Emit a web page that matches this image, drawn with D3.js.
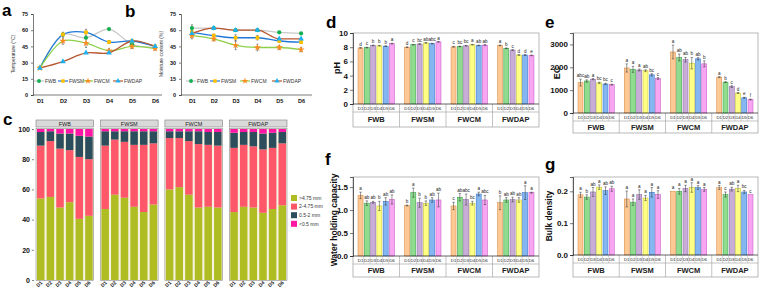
<!DOCTYPE html>
<html>
<head>
<meta charset="utf-8">
<script src="https://cdn.jsdelivr.net/npm/d3@7"></script>
<style>
body { margin: 0; background: #fff; }
svg { font-family: "Liberation Sans", Arial, sans-serif; }
</style>
</head>
<body>
<script>
var days = ["D1", "D2", "D3", "D4", "D5", "D6"];
var groups = ["FWB", "FWSM", "FWCM", "FWDAP"];

// a: temperature
var tempFWB = [25, 56, 53, 61, 47, 44];
var tempFWSM = [25, 56, 58, 49, 50, 45];
var tempFWCM = [25, 50, 48, 41, 45, 43];
var tempFWDAP = [25, 31, 39, 39, 50, 45];
var tempErr = [0.5, 3, 4, 2, 2, 1.5];

// b: moisture content
var moistFWB = [62, 62, 60, 60, 58, 57];
var moistFWSM = [58, 55, 53, 53, 50, 49];
var moistFWCM = [55, 52, 46, 44, 44, 42];
var moistFWDAP = [57, 62, 60, 60, 52, 52];
var moistErr = [3, 2, 4, 3, 2, 2];

// c: aggregate size fractions (%)
var sizeClasses = [">4.75 mm", "2-4.75 mm", "0.5-2 mm", "<0.5 mm"];
var aggFWB = [[54, 55, 48, 51.5, 40.5, 42.5], [35, 37, 39, 34.5, 41, 37.5], [9, 6.5, 10, 11, 14, 15], [2, 1.5, 3, 3, 4.5, 5]];
var aggFWSM = [[47, 56.5, 54.5, 48.5, 45, 50], [42, 36.5, 37, 41, 44.5, 40.5], [9.5, 5.5, 7, 9, 9, 8], [1.5, 1.5, 1.5, 1.5, 1.5, 1.5]];
var aggFWCM = [[60, 61.5, 56.5, 48, 48.5, 48], [34, 32.5, 35.5, 42, 41, 41], [4.5, 4.5, 6.5, 8.5, 8.5, 9], [1.5, 1.5, 1.5, 1.5, 2, 2]];
var aggFWDAP = [[45, 48.5, 48, 44.5, 47, 49.5], [42.5, 41, 40.5, 42, 40.5, 41], [10, 8.5, 9.5, 10.5, 10, 7.5], [2.5, 2, 2, 3, 2.5, 2]];

// d: pH
var phVals = [[7.9, 7.95, 8.25, 8.2, 8.15, 8.5], [8.0, 8.35, 8.45, 8.6, 8.5, 8.75], [8.05, 8.1, 8.2, 8.35, 8.25, 8.3], [8.25, 7.85, 7.6, 6.9, 6.9, 6.85]];
var phErr = [[0.05, 0.05, 0.05, 0.05, 0.05, 0.05], [0.05, 0.05, 0.05, 0.05, 0.05, 0.05], [0.05, 0.05, 0.05, 0.05, 0.05, 0.05], [0.05, 0.05, 0.05, 0.05, 0.05, 0.05]];
var phLetters = [["d", "c", "b", "b", "b", "a"], ["d", "c", "bc", "ab", "abc", "a"], ["c", "bc", "bc", "a", "ab", "ab"], ["a", "b", "c", "d", "d", "e"]];

// e: EC
var ecVals = [[1330, 1400, 1480, 1320, 1270, 1240], [1970, 1910, 1880, 1850, 1670, 1510], [2670, 2430, 2330, 2180, 2370, 2150], [1570, 1350, 1155, 875, 665, 590]];
var ecErr = [[150, 50, 25, 30, 30, 20], [180, 130, 40, 40, 50, 40], [300, 150, 100, 250, 50, 130], [20, 20, 40, 20, 20, 20]];
var ecLetters = [["abc", "ab", "a", "bc", "bc", "c"], ["a", "a", "a", "ab", "bc", "c"], ["a", "ab", "ab", "b", "ab", "b"], ["a", "b", "c", "d", "e", "f"]];

// f: water holding capacity
var whcVals = [[1.32, 1.15, 1.17, 1.09, 1.19, 1.23], [1.10, 1.38, 1.16, 1.15, 1.22, 1.22], [1.09, 1.28, 1.23, 1.15, 1.35, 1.22], [1.16, 1.22, 1.23, 1.22, 1.38, 1.38]];
var whcErr = [[0.07, 0.05, 0.02, 0.1, 0.08, 0.1], [0.01, 0.1, 0.1, 0.05, 0.05, 0.15], [0.08, 0.08, 0.12, 0.04, 0.04, 0.1], [0.15, 0.05, 0.05, 0.05, 0.15, 0.01]];
var whcLetters = [["a", "ab", "ab", "b", "ab", "ab"], ["b", "a", "b", "b", "ab", "ab"], ["c", "ab", "abc", "bc", "a", "abc"], ["b", "ab", "ab", "ab", "a", "a"]];

// g: bulk density
var bdVals = [[0.189, 0.182, 0.198, 0.213, 0.202, 0.208], [0.176, 0.166, 0.19, 0.179, 0.197, 0.19], [0.2, 0.2, 0.209, 0.212, 0.212, 0.206], [0.212, 0.19, 0.207, 0.209, 0.198, 0.19]];
var bdErr = [[0.008, 0.007, 0.014, 0.007, 0.012, 0.008], [0.025, 0.01, 0.015, 0.008, 0.015, 0.012], [0.0, 0.009, 0.01, 0.015, 0.006, 0.006], [0.006, 0.008, 0.006, 0.01, 0.005, 0.0]];
var bdLetters = [["a", "b", "ab", "a", "ab", "ab"], ["a", "a", "a", "a", "a", "a"], ["a", "a", "a", "a", "a", "a"], ["a", "c", "ab", "a", "bc", "c"]];

var lineColors = ["#c8c8c8", "#1f78d8", "#8ed04a", "#b8562e"];
var markColors = ["#12b050", "#ffc000", "#ff8a1e", "#1eb0f0"];
var markTypes = [d3.symbolCircle, d3.symbolSquare, d3.symbolStar, d3.symbolTriangle];
var barFill = ["#fcc995", "#8fdc8f", "#c8aed6", "#ffff85", "#84b6f2", "#f8a5f2"];
var barStroke = ["#d9823a", "#2d9a3c", "#8a64a8", "#b8b820", "#2c6cc4", "#c050c0"];
var aggColors = ["#afbc22", "#fd5769", "#2c4d5c", "#ff16a4"];

var svg = d3.select("body").append("svg")
    .attr("width", 761)
    .attr("height", 292);

function panelLetter(t, x, y) {
  svg.append("text").attr("x", x).attr("y", y)
      .style("font-size", "17px").style("font-weight", "bold").text(t);
}

// ---------- line panels (a, b) ----------
function linePanel(o) {
  var g = svg.append("g");
  var x = d3.scalePoint().domain(days).range([o.x0, o.x1]).padding(o.pad);
  var y = d3.scaleLinear().domain([0, 75]).range([95, 14]);
  var series = o.series;

  g.append("g").attr("transform", "translate(" + o.x0 + ",0)")
      .call(d3.axisLeft(y).tickValues([0, 15, 30, 45, 60, 75]).tickSize(2).tickPadding(3))
      .call(function(s) {
        s.selectAll("text").style("font-size", "5.5px").style("font-weight", "bold").attr("fill", "#111");
        s.select(".domain").attr("stroke", "#222").attr("stroke-width", 0.6);
        s.selectAll(".tick line").attr("stroke", "#222").attr("stroke-width", 0.6);
      });
  g.append("g").attr("transform", "translate(0,95)")
      .call(d3.axisBottom(x).tickSize(0).tickPadding(4).tickSizeOuter(0))
      .call(function(s) {
        s.selectAll("text").style("font-size", "5.5px").style("font-weight", "bold").attr("fill", "#111");
        s.select(".domain").attr("stroke", "#222").attr("stroke-width", 0.6)
            .attr("d", "M" + o.x0 + ",0H" + o.x1);
      });

  g.append("text")
      .attr("transform", "translate(" + o.labelX + ",54) rotate(-90)")
      .attr("text-anchor", "middle")
      .style("font-size", "5px").attr("fill", "#333")
      .text(o.yLabel);

  var line = d3.line()
      .x(function(d, i) { return x(days[i]); })
      .y(function(d) { return y(d); })
      .curve(o.curve);

  series.forEach(function(s, k) {
    g.append("path").datum(s)
        .attr("d", line)
        .attr("fill", "none")
        .attr("stroke", lineColors[k])
        .attr("stroke-width", 1.3);
  });
  series.forEach(function(s, k) {
    s.forEach(function(v, i) {
      var e = o.err[i] * (k % 2 ? 0.7 : 1);
      if (k === 1 || k === 2 || i === 0) {
        var xx = x(days[i]);
        g.append("path")
            .attr("d", "M" + xx + "," + y(v - e) + "V" + y(v + e) +
                "M" + (xx - 1) + "," + y(v - e) + "h2M" + (xx - 1) + "," + y(v + e) + "h2")
            .attr("stroke", "#333").attr("stroke-width", 0.5);
      }
    });
  });
  series.forEach(function(s, k) {
    g.selectAll(null).data(s).enter().append("path")
        .attr("transform", function(d, i) { return "translate(" + x(days[i]) + "," + y(d) + ")"; })
        .attr("d", d3.symbol().type(markTypes[k]).size(k === 2 ? 16 : 14))
        .attr("fill", markColors[k]);
  });

  // legend
  o.legendX.forEach(function(lx, k) {
    g.append("line").attr("x1", lx).attr("x2", lx + 10).attr("y1", 81).attr("y2", 81)
        .attr("stroke", lineColors[k]).attr("stroke-width", 1.2);
    g.append("path").attr("transform", "translate(" + (lx + 5) + ",81)")
        .attr("d", d3.symbol().type(markTypes[k]).size(k === 2 ? 14 : 12))
        .attr("fill", markColors[k]);
    g.append("text").attr("x", lx + 11).attr("y", 83)
        .style("font-size", "5px").attr("fill", "#333").text(groups[k]);
  });
}

linePanel({
  x0: 33, x1: 162, pad: 0.3,
  series: [tempFWB, tempFWSM, tempFWCM, tempFWDAP], err: tempErr,
  yLabel: "Temperature (\u00B0C)", labelX: 15,
  curve: d3.curveCatmullRom.alpha(0.5),
  legendX: [34, 58, 83, 113]
});
linePanel({
  x0: 181, x1: 312, pad: 0.5,
  series: [moistFWB, moistFWSM, moistFWCM, moistFWDAP], err: moistErr,
  yLabel: "Moisture content (%)", labelX: 163,
  curve: d3.curveMonotoneX,
  legendX: [186, 210, 240, 272]
});

// ---------- panel c: stacked bars by facet ----------
(function() {
  var g = svg.append("g");
  var fx = d3.scaleBand().domain(groups).range([36, 287]).paddingInner(0.105);
  var bx = d3.scaleBand().domain(days).range([0, fx.bandwidth()]).paddingInner(0.22).paddingOuter(0.1);
  var y = d3.scaleLinear().domain([0, 100]).range([280, 129]);
  var aggs = [aggFWB, aggFWSM, aggFWCM, aggFWDAP];

  g.append("g").attr("transform", "translate(34,0)")
      .call(d3.axisLeft(y).ticks(5).tickSize(2).tickPadding(2))
      .call(function(s) {
        s.select(".domain").remove();
        s.selectAll(".tick line").attr("stroke", "#333").attr("stroke-width", 0.6);
        s.selectAll("text").style("font-size", "7px").style("font-weight", "bold").attr("fill", "#111");
      });

  groups.forEach(function(grp, gi) {
    var x0 = fx(grp);
    var w = fx.bandwidth();
    g.append("rect").attr("x", x0).attr("y", 120).attr("width", w).attr("height", 7)
        .attr("fill", "#d9d9d9").attr("stroke", "#7f7f7f").attr("stroke-width", 0.6);
    g.append("text").attr("x", x0 + w / 2).attr("y", 125.7).attr("text-anchor", "middle")
        .style("font-size", "5.5px").attr("fill", "#222").text(grp);
    g.append("rect").attr("x", x0).attr("y", 128.5).attr("width", w).attr("height", 152)
        .attr("fill", "#f6f2df").attr("stroke", "#8a8a8a").attr("stroke-width", 0.6);

    var data = aggs[gi];
    days.forEach(function(dd, di) {
      var cum = 0;
      data.forEach(function(layer, li) {
        var v = layer[di];
        g.append("rect")
            .attr("x", x0 + bx(dd))
            .attr("width", bx.bandwidth())
            .attr("y", y(cum + v))
            .attr("height", y(cum) - y(cum + v))
            .attr("fill", aggColors[li]);
        cum += v;
      });
      var cx = x0 + bx(dd) + bx.bandwidth() / 2;
      g.append("text")
          .attr("transform", "translate(" + (cx + 2) + ",283) rotate(-45)")
          .attr("text-anchor", "end")
          .style("font-size", "5px").style("font-weight", "bold").attr("fill", "#222")
          .text(dd);
    });
  });

  sizeClasses.forEach(function(t, i) {
    var yy = 195 + i * 8.6;
    g.append("rect").attr("x", 291).attr("y", yy).attr("width", 6).attr("height", 6)
        .attr("fill", aggColors[i]);
    g.append("text").attr("x", 299).attr("y", yy + 4.8)
        .style("font-size", "5px").attr("fill", "#333").text(t);
  });
})();

// ---------- bar panels (d, e, f, g) ----------
function barPanel(o) {
  var g = svg.append("g");
  var gx = d3.scaleBand().domain(groups).range([o.x0, o.x1]);
  var dx = d3.scaleBand().domain(days).range([0, gx.bandwidth()]).paddingInner(0.2).paddingOuter(0.8);
  var y = d3.scaleLinear().domain([0, o.max]).range([o.yA, o.yT]);
  var yRow = o.yA + 8;
  var yBot = o.yBot;

  // frame
  g.append("rect").attr("x", o.x0).attr("y", o.yT)
      .attr("width", o.x1 - o.x0).attr("height", yBot - o.yT)
      .attr("fill", "none").attr("stroke", "#9a9a9a").attr("stroke-width", 0.7);

  groups.forEach(function(grp, gi) {
    var gx0 = gx(grp);
    days.forEach(function(dd, di) {
      var v = o.vals[gi][di];
      var e = o.err[gi][di];
      var bx = gx0 + dx(dd);
      var cx = bx + dx.bandwidth() / 2;
      g.append("rect")
          .attr("x", bx).attr("width", dx.bandwidth())
          .attr("y", y(v)).attr("height", y(0) - y(v))
          .attr("fill", barFill[di]).attr("stroke", barStroke[di]).attr("stroke-width", 0.5);
      if (e > 0) {
        g.append("path")
            .attr("d", "M" + cx + "," + y(v - e) + "V" + y(v + e) +
                "M" + (cx - 1.2) + "," + y(v - e) + "h2.4M" + (cx - 1.2) + "," + y(v + e) + "h2.4")
            .attr("stroke", "#333").attr("stroke-width", 0.5).attr("fill", "none");
      }
      g.append("text").attr("x", cx).attr("y", y(v + e) - 2)
          .attr("text-anchor", "middle")
          .style("font-size", "4.6px").attr("fill", "#222")
          .text(o.letters[gi][di]);
      // tick row cells
      g.append("text").attr("x", cx).attr("y", o.yA + 6)
          .attr("text-anchor", "middle")
          .style("font-size", "4.4px").attr("fill", "#222").text(dd);
      if (di > 0) {
        g.append("line").attr("x1", bx - dx.step() * 0.1).attr("x2", bx - dx.step() * 0.1)
            .attr("y1", o.yA).attr("y2", yRow)
            .attr("stroke", "#9a9a9a").attr("stroke-width", 0.4);
      }
    });
    if (gi > 0) {
      g.append("line").attr("x1", gx0).attr("x2", gx0).attr("y1", o.yA).attr("y2", yBot)
          .attr("stroke", "#9a9a9a").attr("stroke-width", 0.6);
    }
    g.append("text").attr("x", gx0 + gx.bandwidth() / 2).attr("y", (yRow + yBot) / 2 + 2.6)
        .attr("text-anchor", "middle")
        .style("font-size", "7.5px").style("font-weight", "bold").attr("fill", "#222").text(grp);
  });

  g.append("line").attr("x1", o.x0).attr("x2", o.x1).attr("y1", yRow).attr("y2", yRow)
      .attr("stroke", "#9a9a9a").attr("stroke-width", 0.6);

  g.append("g").attr("transform", "translate(" + o.x0 + ",0)")
      .call(d3.axisLeft(y).tickValues(o.ticks).tickSize(3).tickPadding(2).tickFormat(o.fmt))
      .call(function(s) {
        s.select(".domain").attr("stroke", "#222").attr("stroke-width", 0.7);
        s.selectAll(".tick line").attr("stroke", "#222").attr("stroke-width", 0.6);
        s.selectAll("text").style("font-size", "8px").style("font-weight", "bold").attr("fill", "#111");
      });
  g.append("line").attr("x1", o.x0).attr("x2", o.x1).attr("y1", o.yA).attr("y2", o.yA)
      .attr("stroke", "#222").attr("stroke-width", 0.7);

  g.append("text")
      .attr("transform", "translate(" + o.labelX + "," + o.labelY + ") rotate(-90)")
      .attr("text-anchor", "middle")
      .style("font-size", o.labelSize).style("font-weight", "bold").attr("fill", "#111")
      .text(o.yLabel);
}

barPanel({
  x0: 353, x1: 539, yT: 33, yA: 104, yBot: 127, max: 10,
  ticks: [0, 2, 4, 6, 8, 10], fmt: d3.format("d"),
  vals: phVals, err: phErr, letters: phLetters,
  yLabel: "pH", labelX: 340, labelY: 68, labelSize: "9px"
});
barPanel({
  x0: 573, x1: 758, yT: 33, yA: 113, yBot: 133, max: 3500,
  ticks: [0, 1000, 2000, 3000], fmt: d3.format("d"),
  vals: ecVals, err: ecErr, letters: ecLetters,
  yLabel: "EC", labelX: 560, labelY: 73, labelSize: "9px"
});
barPanel({
  x0: 353, x1: 539, yT: 177, yA: 256, yBot: 277, max: 1.72,
  ticks: [0, 0.5, 1, 1.5], fmt: d3.format(".1f"),
  vals: whcVals, err: whcErr, letters: whcLetters,
  yLabel: "Water holding capacity", labelX: 337, labelY: 220, labelSize: "8.5px"
});
barPanel({
  x0: 573, x1: 758, yT: 177, yA: 255, yBot: 277, max: 0.245,
  ticks: [0, 0.1, 0.2], fmt: d3.format(".1f"),
  vals: bdVals, err: bdErr, letters: bdLetters,
  yLabel: "Bulk density", labelX: 552, labelY: 216, labelSize: "8.5px"
});

panelLetter("a", 2, 16);
panelLetter("b", 125, 17);
panelLetter("c", 3, 125);
panelLetter("d", 326, 28);
panelLetter("e", 545, 28);
panelLetter("f", 325, 165);
panelLetter("g", 545, 170);
</script>
</body>
</html>
